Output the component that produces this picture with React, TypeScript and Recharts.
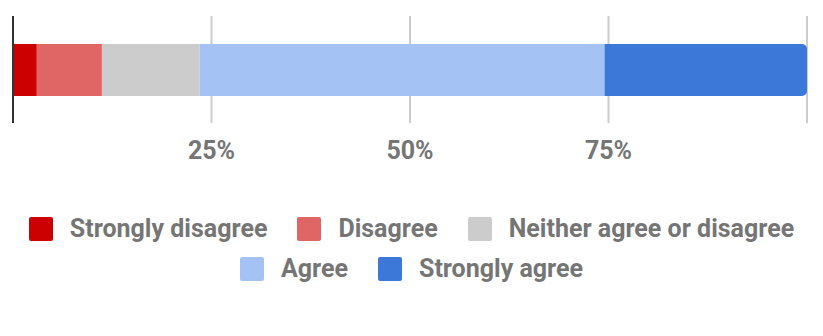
import React from 'react';
import { BarChart, Bar, XAxis, YAxis, CartesianGrid, Legend, ReferenceLine } from 'recharts';

const categories = ['Responses'];
const seriesNames = ['Strongly disagree', 'Disagree', 'Neither agree or disagree', 'Agree', 'Strongly agree'];
const seriesValues = [3.0, 8.2, 12.3, 51.0, 25.5];
const seriesColors = ['#cc0000', '#e06666', '#cccccc', '#a4c2f4', '#3c78d8'];
const xTicks = [0, 25, 50, 75, 100];

const data = categories.map(name => {
  const row: Record<string, string | number> = { name };
  seriesNames.forEach((s, i) => {
    row[s] = seriesValues[i];
  });
  return row;
});

const FONT = 'Roboto, "Noto Sans", sans-serif';
const GREY = '#757575';

// legend built from the series arrays so the order stays as in the source
function renderLegend() {
  return (
    <div
      style={{
        display: 'flex',
        flexWrap: 'wrap',
        justifyContent: 'center',
        columnGap: 30,
        rowGap: 16,
        width: 823,
        fontFamily: FONT,
        fontWeight: 700,
        fontSize: 25,
        color: GREY,
      }}
    >
      {seriesNames.map((name, i) => (
        <div key={name} style={{ display: 'flex', alignItems: 'center', height: 24 }}>
          <span
            style={{
              display: 'inline-block',
              width: 24,
              height: 24,
              borderRadius: 2,
              backgroundColor: seriesColors[i],
              marginRight: 17,
            }}
          />
          <span style={{ lineHeight: '24px' }}>{name}</span>
        </div>
      ))}
    </div>
  );
}

export default function App() {
  return (
    <div style={{ position: 'fixed', left: 0, top: 0, width: 823, height: 336, background: '#fff' }}>
      <BarChart
        width={823}
        height={336}
        data={data}
        layout="vertical"
        margin={{ top: 16, right: 16, bottom: 173, left: 13 }}
      >
        <CartesianGrid horizontal={false} stroke="#cccccc" strokeWidth={2} />
        <XAxis
          type="number"
          domain={[0, 100]}
          ticks={xTicks}
          height={40}
          axisLine={false}
          tickLine={false}
          tickMargin={12}
          tickFormatter={(v: number) => (v === 0 || v === 100 ? '' : `${v}%`)}
          tick={{ fill: GREY, fontSize: 25, fontWeight: 700, fontFamily: FONT }}
        />
        <YAxis type="category" dataKey="name" hide />
        <Legend
          layout="horizontal"
          verticalAlign="middle"
          align="center"
          content={renderLegend}
          wrapperStyle={{ position: 'absolute', top: 217, left: 0, width: 823 }}
        />
        {seriesNames.map((s, i) => (
          <Bar
            key={s}
            dataKey={s}
            name={s}
            stackId="a"
            fill={seriesColors[i]}
            barSize={52}
            radius={i === seriesNames.length - 1 ? [0, 5, 5, 0] : 0}
            isAnimationActive={false}
          />
        ))}
        <ReferenceLine x={0} stroke="#333333" strokeWidth={2} />
      </BarChart>
    </div>
  );
}
